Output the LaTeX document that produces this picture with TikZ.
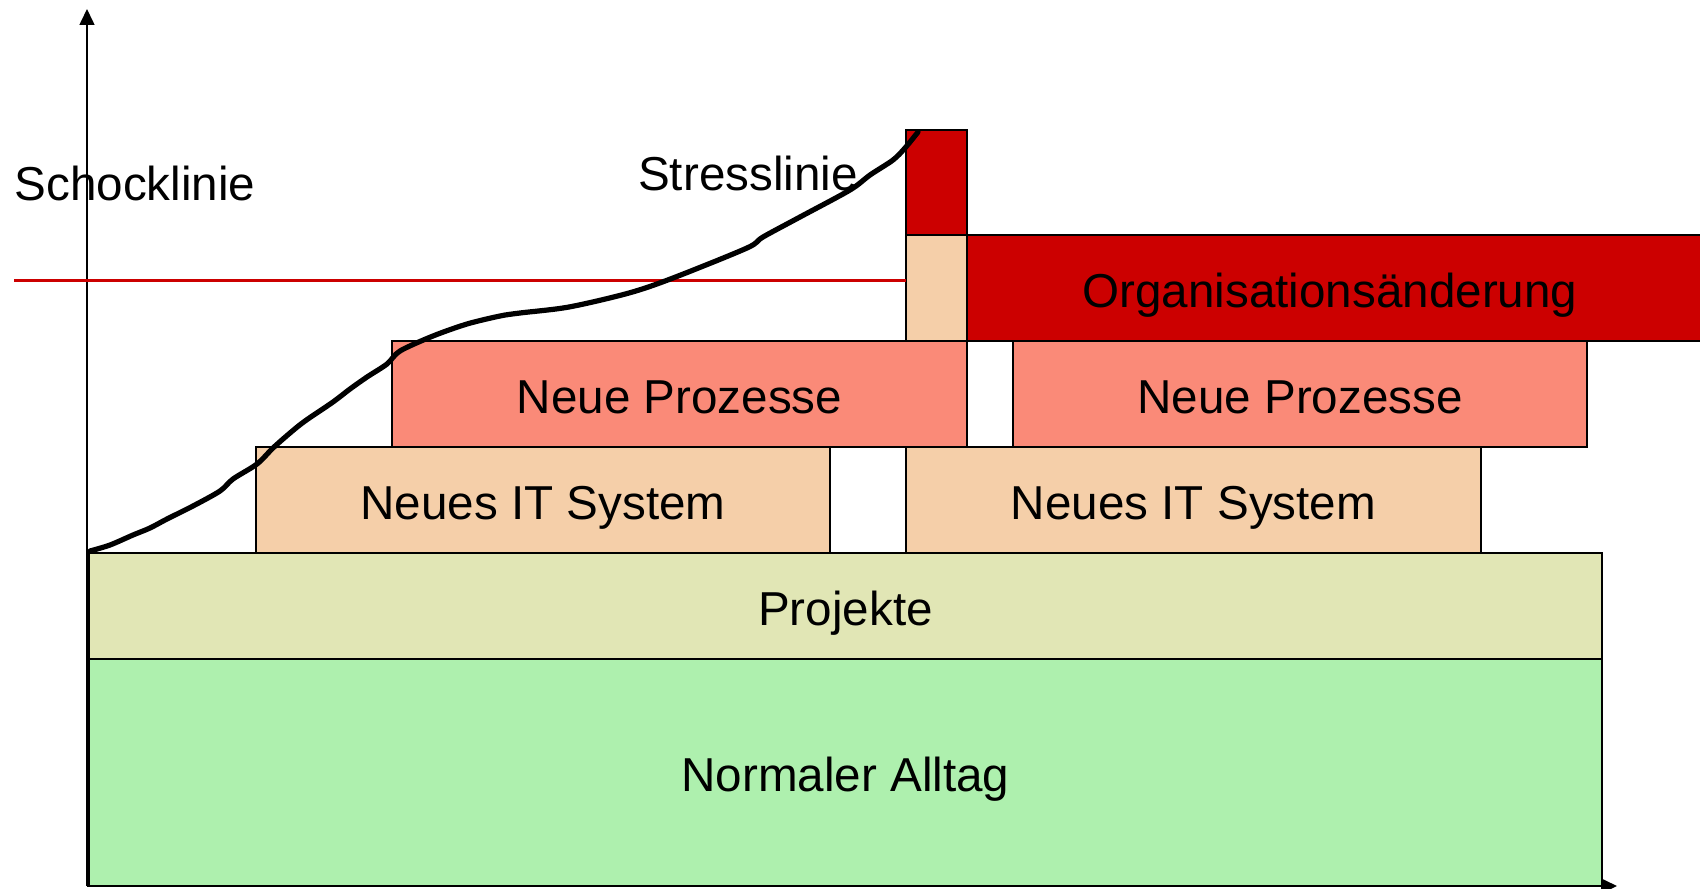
\documentclass[tikz,border=0pt]{standalone}
\usepackage{fontspec}
\setmainfont{Liberation Sans}
\usetikzlibrary{arrows.meta}
\definecolor{dred}{HTML}{CC0000}
\definecolor{beige}{HTML}{F5CFA9}
\definecolor{salmon}{HTML}{FA8A78}
\definecolor{projc}{HTML}{E1E6B5}
\definecolor{alltag}{HTML}{AEF0AE}
\begin{document}
\begin{tikzpicture}[x=0.5pt,y=-0.5pt,
  lbl/.style={font=\fontsize{23.8pt}{28pt}\selectfont, inner sep=0pt},
  blk/.style={draw=black, line width=0.8pt, inner sep=0pt, outer sep=0pt,
    minimum height=53pt, text height=19pt, text depth=0pt,
    font=\fontsize{23.8pt}{28pt}\selectfont},
  axisline/.style={line width=0.8pt, -{Triangle[width=7.5pt,length=8pt]}}]
\useasboundingbox (0,0) rectangle (1700,888);
% labels
\node[lbl, anchor=base] (schock) at (135,200) {Schocklinie};
\node[lbl, anchor=base] (stress) at (748,190) {Stresslinie};
% axes
\coordinate (origin) at (87,886);
\coordinate (ytop) at (87,9);
\coordinate (xend) at (1617,886);
\draw[axisline] (origin) -- (ytop);
\draw[axisline] (origin) -- (xend);
% blocks
\node[blk, fill=alltag, minimum width=756.5pt, minimum height=113.5pt] (alltagbox) at (845.5,772.5) {Normaler Alltag};
\node[blk, fill=projc, minimum width=756.5pt] (projekte) at (845.5,606) {Projekte};
\node[blk, fill=beige, minimum width=287pt] (it1) at (543,500) {Neues IT System};
\node[blk, fill=beige, minimum width=287.5pt] (it2) at (1193.5,500) {Neues IT System};
\node[blk, fill=salmon, minimum width=287.5pt] (np1) at (679.5,394) {Neue Prozesse};
\node[blk, fill=salmon, minimum width=287pt] (np2) at (1300,394) {Neue Prozesse};
\node[blk, fill=beige, minimum width=30.5pt] (smallbeige) at (936.5,288) {};
\node[blk, fill=dred, minimum width=30.5pt, minimum height=52.5pt] (smallred) at (936.5,182.5) {};
\node[blk, fill=dred, minimum width=367.5pt] (org) at (1334.5,288) {};
\node[lbl, text height=19pt, text depth=0pt] (orgtext) at (1330,288) {Organisationsänderung};
% shock line
\coordinate (shockstart) at (14,280.5);
\draw[dred, line width=1.6pt] (shockstart) -- (smallbeige.west |- shockstart);
% stress curve
\draw[line width=2.6pt, line cap=round, line join=round] plot[smooth, tension=0.5] coordinates {
(90,551) (110,545) (133,535) (150,528) (167,519) (193,506) (220,491) (233,479)
(257,464) (273,448) (290,433) (305,421) (333,402) (350,389) (367,377) (387,364)
(400,351) (433,336) (467,324) (500,316) (520,313) (569,307) (629,293) (673,278)
(747,248) (763,237) (800,217) (850,190) (870,175) (893,160) (905,148) (918,132)};
\end{tikzpicture}
\end{document}
